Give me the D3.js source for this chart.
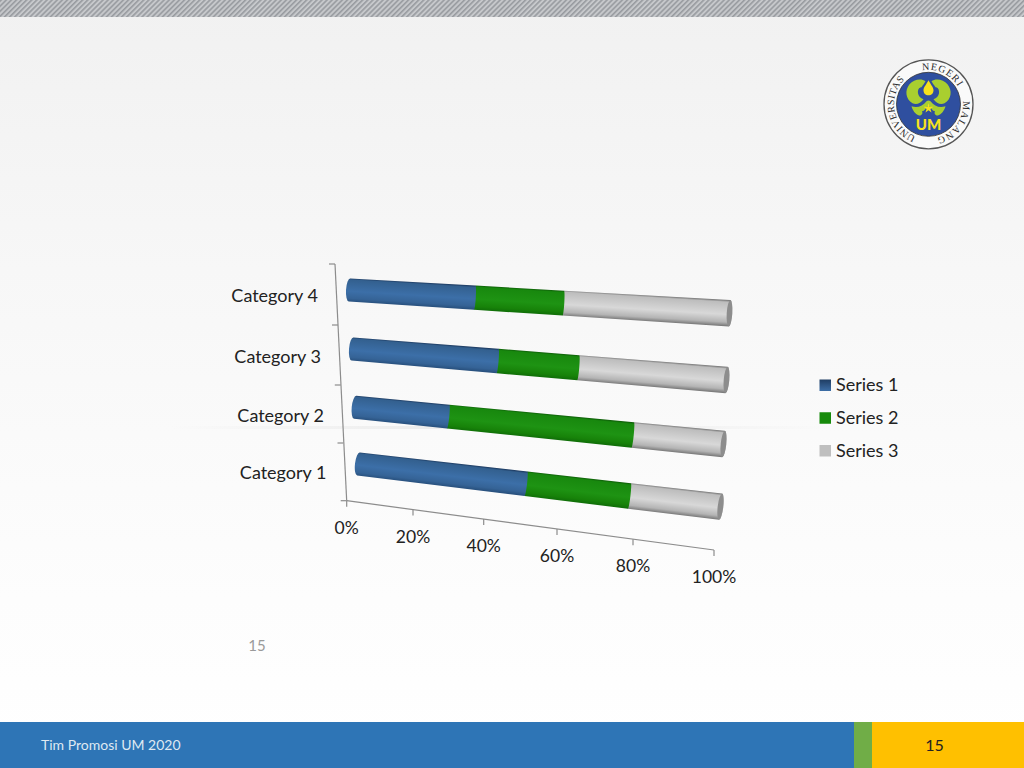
<!DOCTYPE html>
<html><head><meta charset="utf-8">
<script src="https://cdn.jsdelivr.net/npm/d3@7"></script>
<style>html,body{margin:0;padding:0;background:#fff;overflow:hidden}svg{display:block}text{font-family:Lato,"Open Sans",sans-serif}</style>
</head><body>
<svg id="c" width="1024" height="768"></svg>
<script>
const categories = ["Category 1","Category 2","Category 3","Category 4"];
const series = ["Series 1","Series 2","Series 3"];
const series1 = [49,27.5,41.5,35.5];
const series2 = [28,50,21.5,23.5];
const series3 = [23,22.5,37,41];
const tickLabels = ["0%","20%","40%","60%","80%","100%"];
const tickValues = [0,0.2,0.4,0.6,0.8,1];

const svg = d3.select("#c");
const defs = svg.append("defs");
const W=1024,H=768;

// Perspective mapping
const axisX = d3.scaleLinear().domain(tickValues).range([346.7,413,483.7,557,633,714]);
const axisY = d3.scaleLinear().domain([0,1]).range([500.7,550]);
const catIdx = d3.scaleOrdinal().domain(categories).range([0,1,2,3]);
const leftX = d3.scaleLinear().domain([0,1,2,3]).range([358.5,355.2,352.5,349.5]);
const rightX = d3.scaleLinear().domain([0,1,2,3]).range([720.5,723.5,726.5,729.5]);
const leftY = d3.scaleLinear().domain([0,1,2,3]).range([464,407.3,349,290]);
const rightY = d3.scaleLinear().domain([0,1,2,3]).range([506.7,444,380,313.3]);
const thick = d3.scaleLinear().domain([0,1]).range([23.2,26.4]);
const yAxisX = d3.scaleLinear().domain([-0.5,0.5,1.5,2.5,3.5]).range([346.7,343.5,340.8,338,335]);
const yAxisY = d3.scaleLinear().domain([-0.5,0.5,1.5,2.5,3.5]).range([500.7,443,385,325,264]);
const labelR = d3.scaleLinear().domain([0,1,2,3]).range([326.5,324,321,318]);
const labelY = d3.scaleLinear().domain([0,1,2,3]).range([473,415.5,356.5,296]);

function barPoint(i,v){
  const frac=(axisX(v)-axisX(0))/(axisX(1)-axisX(0));
  return {x:leftX(i)+frac*(rightX(i)-leftX(i)), y:leftY(i)+frac*(rightY(i)-leftY(i)), h:thick(frac)};
}

// Background
const bg=defs.append("linearGradient").attr("id","bg").attr("x1",0).attr("x2",0).attr("y1",0).attr("y2",1);
[[0,"#f1f1f1"],[0.35,"#f7f7f7"],[0.78,"#fdfdfd"],[1,"#ffffff"]].forEach(s=>bg.append("stop").attr("offset",s[0]).attr("stop-color",s[1]));
svg.append("rect").attr("width",W).attr("height",H).attr("fill","url(#bg)");
const hl=defs.append("linearGradient").attr("id","hl");
[[0,0],[0.5,1],[1,0]].forEach(s=>hl.append("stop").attr("offset",s[0]).attr("stop-color","#e9e9e9").attr("stop-opacity",s[1]));
svg.append("rect").attr("x",170).attr("y",426).attr("width",660).attr("height",3).attr("fill","url(#hl)");

// Top hatch band
const pat=defs.append("pattern").attr("id","hatch").attr("width",3.6).attr("height",3.6).attr("patternUnits","userSpaceOnUse").attr("patternTransform","rotate(45)");
pat.append("rect").attr("width",3.6).attr("height",3.6).attr("fill","#c6c8cb");
pat.append("rect").attr("width",1.6).attr("height",3.6).attr("fill","#989ba0");
svg.append("rect").attr("width",W).attr("height",17).attr("fill","url(#hatch)");

// Bottom band
svg.append("rect").attr("y",722).attr("width",854).attr("height",46).attr("fill","#2e75b6");
svg.append("rect").attr("x",854).attr("y",722).attr("width",18).attr("height",46).attr("fill","#70ad47");
svg.append("rect").attr("x",872).attr("y",722).attr("width",152).attr("height",46).attr("fill","#ffc000");
svg.append("text").attr("x",41).attr("y",750).attr("font-size",14).attr("fill","#dfe9f2").text("Tim Promosi UM 2020");
svg.append("text").attr("x",934.5).attr("y",750.5).attr("text-anchor","middle").attr("font-size",16).attr("fill","#222").text("15");
svg.append("text").attr("x",257).attr("y",651).attr("text-anchor","middle").attr("font-size",15).attr("fill","#9a9a9a").text("15");

// Axes
const axisCol="#8c8c8c";
const ax=svg.append("g").attr("stroke",axisCol).attr("stroke-width",1.2).attr("fill","none");
ax.append("line").attr("x1",axisX(0)).attr("y1",axisY(0)).attr("x2",axisX(1)).attr("y2",axisY(1));
ax.append("line").attr("x1",yAxisX(-0.5)).attr("y1",yAxisY(-0.5)).attr("x2",yAxisX(3.5)).attr("y2",yAxisY(3.5));
const fracOf=v=>(axisX(v)-axisX(0))/(axisX(1)-axisX(0));
tickValues.forEach(v=>{
  const x=axisX(v),y=axisY(fracOf(v));
  ax.append("line").attr("x1",x).attr("y1",y).attr("x2",x).attr("y2",y+6);
});
[-0.5,0.5,1.5,2.5,3.5].forEach(i=>{
  ax.append("line").attr("x1",yAxisX(i)).attr("y1",yAxisY(i)).attr("x2",yAxisX(i)-6).attr("y2",yAxisY(i));
});
tickValues.forEach((v,k)=>{
  svg.append("text").attr("x",axisX(v)).attr("y",axisY(fracOf(v))+33).attr("text-anchor","middle")
    .attr("font-size",17.5).attr("fill","#222").text(tickLabels[k]);
});
categories.forEach((c,i)=>{
  svg.append("text").attr("x",labelR(i)).attr("y",labelY(i)+6).attr("text-anchor","end")
    .attr("font-size",18).attr("fill","#222").text(c);
});

// Bars
const palette=[
 [[0,"#1e3c63"],[0.07,"#33608f"],[0.55,"#3c6fa8"],[0.85,"#356396"],[1,"#28507d"]],
 [[0,"#0e5f08"],[0.07,"#18880e"],[0.55,"#1e9313"],[0.85,"#178209"],[1,"#106e08"]],
 [[0,"#7d7d7d"],[0.07,"#bdbdbd"],[0.55,"#d8d8d8"],[0.85,"#b4b4b4"],[1,"#7a7a7a"]]
];
const values=[series1,series2,series3];
let gid=0;
categories.forEach((c,i)=>{
  const i0=catIdx(c);
  const tot=series1[i]+series2[i]+series3[i];
  const g=svg.append("g");
  const dx=rightX(i0)-leftX(i0),dy=rightY(i0)-leftY(i0),len=Math.hypot(dx,dy);
  const nx=dy/len,ny=-dx/len;
  let acc=0;
  const segs=values.map((arr,s)=>{const a=acc;acc+=arr[i]/tot;return {s,a,b:acc};});
  segs.slice().reverse().forEach(d=>{
    const p=barPoint(i0,d.a),q=barPoint(i0,d.b);
    const rot=Math.atan2(dy,dx)*180/Math.PI;
    const pT=[p.x+nx*p.h/2,p.y+ny*p.h/2],pB=[p.x-nx*p.h/2,p.y-ny*p.h/2];
    const qT=[q.x+nx*q.h/2,q.y+ny*q.h/2],qB=[q.x-nx*q.h/2,q.y-ny*q.h/2];
    const mx=(p.x+q.x)/2,my=(p.y+q.y)/2,mh=(p.h+q.h)/2;
    const id="g"+(gid++);
    const gr=defs.append("linearGradient").attr("id",id).attr("gradientUnits","userSpaceOnUse")
      .attr("x1",mx+nx*mh/2).attr("y1",my+ny*mh/2).attr("x2",mx-nx*mh/2).attr("y2",my-ny*mh/2);
    palette[d.s].forEach(st=>gr.append("stop").attr("offset",st[0]).attr("stop-color",st[1]));
    const rxL=d.s===0?3.5:1, rxR=d.s===2?2.8:1;
    const path=`M${pT[0]},${pT[1]}L${qT[0]},${qT[1]}A${rxR},${q.h/2} ${rot} 0 1 ${qB[0]},${qB[1]}L${pB[0]},${pB[1]}A${rxL},${p.h/2} ${rot} 0 1 ${pT[0]},${pT[1]}Z`;
    g.append("path").attr("d",path).attr("fill",`url(#${id})`);
    if(d.s===2){
      g.append("ellipse").attr("cx",q.x).attr("cy",q.y).attr("rx",2.8).attr("ry",q.h/2-0.2)
        .attr("transform",`rotate(${rot} ${q.x} ${q.y})`).attr("fill","#8d8d8d");
    }
  });
});

// Legend
const sw=defs.append("linearGradient").attr("id","sw1").attr("x1",0).attr("x2",0).attr("y1",0).attr("y2",1);
[[0,"#1f3d63"],[1,"#3d6ea6"]].forEach(s=>sw.append("stop").attr("offset",s[0]).attr("stop-color",s[1]));
const legFill=["url(#sw1)","#178a0b","#bfbfbf"];
const legY=d3.scalePoint().domain(series).range([385,450.5]);
series.forEach((s,k)=>{
  svg.append("rect").attr("x",819.5).attr("y",legY(s)-5.5).attr("width",11.5).attr("height",11.5).attr("fill",legFill[k]);
  svg.append("text").attr("x",836).attr("y",legY(s)+6).attr("font-size",18).attr("fill","#222").text(s);
});

// Logo
const L=svg.append("g").attr("transform","translate(928.5,104.3)");
L.append("circle").attr("r",44.5).attr("fill","#fafafa").attr("stroke","#555").attr("stroke-width",1.3);
L.append("circle").attr("r",32).attr("fill","#2f4f9f").attr("stroke","#333").attr("stroke-width",0.8);
const ringR=34.5, startDeg=190, sRad=startDeg*Math.PI/180;
const sx=ringR*Math.sin(sRad), sy=-ringR*Math.cos(sRad);
defs.append("path").attr("id","ring").attr("d",`M${sx},${sy}A${ringR},${ringR} 0 0 1 ${-sx},${-sy}A${ringR},${ringR} 0 0 1 ${sx},${sy}`);
[["NEGERI",25],["MALANG",126],["UNIVERSITAS",259]].forEach(t=>{
  const off=((t[1]-startDeg+360)%360)/360*100;
  L.append("text").attr("font-size",10).attr("letter-spacing",t[0].length>6?0.4:1).attr("fill","#2a2a2a")
   .style("font-family","'Liberation Serif',serif").attr("text-anchor","middle")
   .append("textPath").attr("href","#ring").attr("startOffset",off+"%").text(t[0]);
});
const leaf="#a9cf2f";
const lobe="M-3,-23C-7,-26 -15,-25 -19,-20C-24,-14 -23,-5 -16,-1C-12,1 -8,-1 -5,-5C-8,-6 -10,-8 -10.5,-11C-11,-15 -9,-17 -7,-17C-5,-20 -4,-21 -3,-23Z";
const lower="M-17,2C-11,4 -6,2 -2,-3C-1,-4 1,-4 2,-3C6,2 11,4 17,2C16,6 13,10 10,11C8,12 5,10 6.5,7C5,7 4,6 2,3C1,1 -1,1 -2,3C-4,6 -5,7 -6.5,7C-5,10 -8,12 -10,11C-13,10 -16,6 -17,2Z";
L.append("path").attr("fill",leaf).attr("d",lobe);
L.append("path").attr("fill",leaf).attr("d",lobe).attr("transform","scale(-1,1)");
L.append("path").attr("fill",leaf).attr("d",lower);
L.append("path").attr("fill","#f6e21c").attr("d","M0,-24C2,-20 5,-17 5,-14C5,-11 3,-9 0,-9C-3,-9 -5,-11 -5,-14C-5,-17 -2,-20 0,-24Z");
L.append("path").attr("fill","#f6e21c").attr("d",d3.symbol().type(d3.symbolStar).size(30)()).attr("transform","translate(0,4)");
L.append("text").attr("y",26).attr("text-anchor","middle").attr("font-size",15).attr("font-weight",900).attr("fill","#f6e21c").text("UM");
</script>
</body></html>
